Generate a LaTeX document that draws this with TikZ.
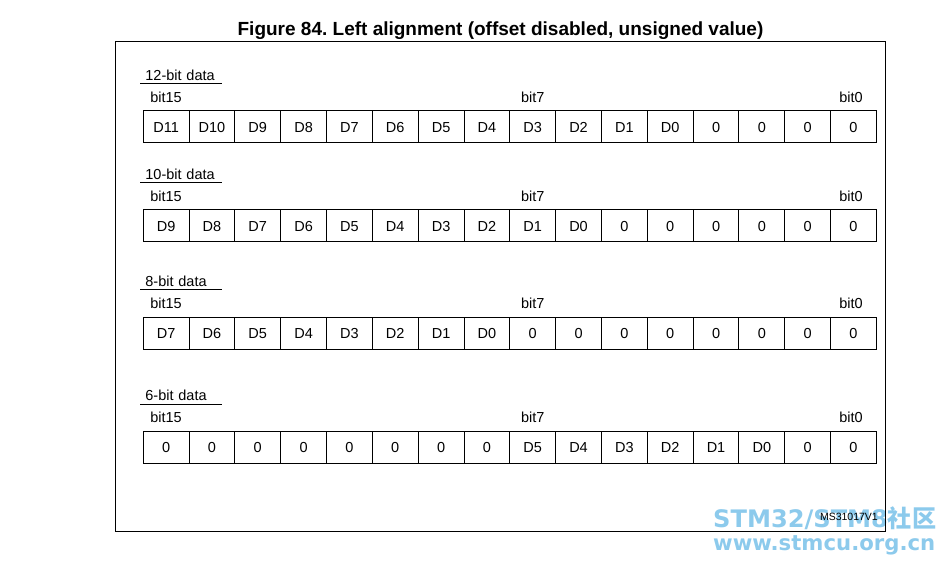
\documentclass[tikz,border=0pt]{standalone}
\usepackage{fontspec}
\setmainfont{Liberation Sans}
\newfontfamily\wmfont{DejaVu Sans}
\newfontfamily\cjk{Noto Sans CJK SC}
\usetikzlibrary{positioning}

\definecolor{wmblue}{RGB}{140,202,236}
\frenchspacing

\begin{document}
\begin{tikzpicture}[x=1pt, y=-1pt,
  cell/.style={draw, line width=0.9pt, anchor=north west, minimum width=45.83pt, minimum height=32pt, inner sep=0pt, text height=10.5pt, text depth=0pt, font=\fontsize{14.5}{17}\selectfont},
  bitlab/.style={inner sep=0pt, font=\fontsize{14.5}{17}\selectfont},
  rowlab/.style={inner xsep=5pt, inner ysep=3pt, text width=71pt, align=left, text depth=0pt, font=\fontsize{14.5}{17}\selectfont}]

\useasboundingbox (0,0) rectangle (945,568);

% watermark
\node[anchor=base west, inner sep=0pt, text=wmblue] (wm1) at (713,527) {\resizebox{223pt}{!}{\wmfont\bfseries STM32/STM8{\cjk\bfseries 社区}}};
\node[anchor=base west, inner sep=0pt, text=wmblue] (wm2) at (713,550) {\resizebox{222pt}{!}{\wmfont\bfseries www.stmcu.org.cn}};

\node[anchor=base, font=\bfseries\fontsize{19}{21}\selectfont] (title) at (500.5,35) {Figure 84. Left alignment (offset disabled, unsigned value)};
\draw[line width=0.9pt] (115.5,41.5) rectangle (885.5,531);

\foreach \r/\top/\name/\cells in {
  1/110.3/12-bit data/{D11,D10,D9,D8,D7,D6,D5,D4,D3,D2,D1,D0,0,0,0,0},
  2/209.3/10-bit data/{D9,D8,D7,D6,D5,D4,D3,D2,D1,D0,0,0,0,0,0,0},
  3/316.7/8-bit data/{D7,D6,D5,D4,D3,D2,D1,D0,0,0,0,0,0,0,0,0},
  4/431/6-bit data/{0,0,0,0,0,0,0,0,D5,D4,D3,D2,D1,D0,0,0}}
{
  \foreach \lab [count=\i from 0] in \cells
    \node[cell] (b\r-\i) at (142.7+45.83*\i, \top) {\lab};
  \node[bitlab, above=7.7pt of b\r-0] (bit15-\r) {bit15};
  \node[bitlab, above=7.7pt of b\r-8] (bit7-\r) {bit7};
  \node[bitlab, above=7.7pt of b\r-15, xshift=-2.5pt] (bit0-\r) {bit0};
  \node[rowlab, above right=27pt and -2.5pt of b\r-0.north west] (lab\r) {\name};
  \draw[line width=0.9pt] (lab\r.south west) -- (lab\r.south east);
}

\node[anchor=base east, inner sep=0pt, font=\fontsize{10.5}{12}\selectfont] (ref) at (878,520) {MS31017V1};

\end{tikzpicture}
\end{document}
